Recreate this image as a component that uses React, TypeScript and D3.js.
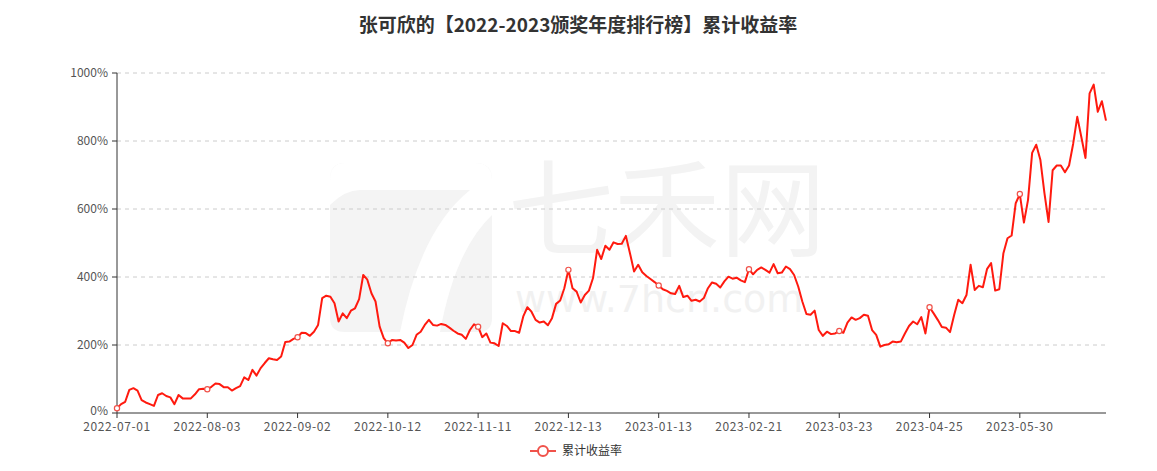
import React from "react";
import * as d3 from "d3";

const title = "张可欣的【2022-2023颁奖年度排行榜】累计收益率";
const seriesName = "累计收益率";

const tickIndices = [0, 22, 44, 66, 88, 110, 132, 154, 176, 198, 220];
const tickLabels = [
  "2022-07-01", "2022-08-03", "2022-09-02", "2022-10-12", "2022-11-11", "2022-12-13",
  "2023-01-13", "2023-02-21", "2023-03-23", "2023-04-25", "2023-05-30",
];
const yTicks = [0, 200, 400, 600, 800, 1000];

// cumulative return (%) per trading day
const values = [
  14, 26, 33, 68, 73, 66, 38, 31, 26, 21,
  53, 58, 50, 46, 26, 53, 43, 43, 43, 55,
  70, 71, 70, 77, 87, 85, 76, 76, 66, 73,
  79, 105, 97, 127, 110, 132, 147, 161, 158, 156,
  166, 209, 210, 218, 223, 236, 235, 227, 239, 259,
  338, 345, 342, 323, 269, 293, 279, 301, 308, 335,
  406, 392, 352, 328, 254, 220, 205, 215, 213, 215,
  207, 191, 200, 230, 239, 259, 274, 259, 257, 262,
  259, 251, 242, 234, 230, 218, 244, 261, 254, 223,
  234, 207, 205, 197, 264, 256, 241, 241, 236, 284,
  311, 298, 274, 266, 269, 258, 279, 321, 331, 367,
  421, 367, 357, 325, 347, 360, 397, 480, 453, 492,
  480, 502, 497, 498, 521, 470, 416, 436, 414, 403,
  394, 385, 375, 364, 359, 352, 350, 374, 341, 345,
  330, 333, 328, 338, 367, 384, 380, 369, 387, 401,
  395, 398, 390, 385, 423, 408, 421, 428, 421, 413,
  438, 411, 413, 431, 423, 406, 372, 328, 291, 289,
  301, 244, 227, 239, 232, 234, 241, 236, 266, 281,
  274, 279, 289, 286, 244, 230, 195, 200, 202, 210,
  208, 210, 234, 256, 269, 261, 282, 234, 311, 293,
  274, 253, 251, 238, 288, 333, 323, 347, 436, 362,
  374, 370, 423, 441, 360, 364, 470, 514, 522, 617,
  644, 560, 627, 765, 789, 745, 647, 562, 714, 728,
  728, 708, 728, 792, 871, 811, 750, 940, 966, 886,
  917, 860,
];

const W = 1157;
const H = 471;
const M = { left: 117, right: 1106, top: 73, bottom: 413 };
const LINE = "#ff1a0f";
const MARK = "#f0524a";
const FONT = "'Noto Sans CJK SC', 'Noto Sans', sans-serif";

export default function App() {
  const x = d3.scaleLinear().domain([0, values.length - 1]).range([M.left, M.right]);
  const y = d3.scaleLinear().domain([0, 1000]).range([M.bottom, M.top]);
  const line = d3
    .line<number>()
    .x((_, i) => x(i))
    .y((d) => y(d));

  return (
    <svg
      width={W}
      height={H}
      style={{ position: "absolute", left: 0, top: 0, background: "#fff" }}
      fontFamily={FONT}
    >
      {/* watermark */}
      <g>
        <path
          d="M345,163 L475,163 Q492,163 492,180 L492,318 Q492,332 478,332 L345,332 Q330,332 330,318 L330,180 Q330,163 345,163 Z"
          fill="#f4f4f4"
        />
        <path
          d="M360,190 L470,190 Q420,230 400,332 L440,332 Q455,250 492,215 L492,180 Q492,163 475,163 L345,163 Q330,163 330,180 L330,205 Q345,190 360,190 Z"
          fill="#ffffff"
        />
        <text x={508} y={248} fontSize={106} fill="#f3f3f3" fontFamily={FONT}>
          七禾网
        </text>
        <text x={515} y={312} fontSize={38} fill="#f1f1f1" fontFamily="'DejaVu Sans', sans-serif">
          www.7hcn.com
        </text>
      </g>

      <text x={578} y={32} textAnchor="middle" fontSize={19} fontWeight="bold" fill="#333">
        {title}
      </text>

      {/* grid + y axis */}
      {yTicks.map((t) => (
        <g key={t}>
          {t > 0 && (
            <line
              x1={M.left}
              x2={M.right}
              y1={y(t)}
              y2={y(t)}
              stroke="#cccccc"
              strokeDasharray="4,4"
            />
          )}
          <line x1={M.left - 5} x2={M.left} y1={y(t)} y2={y(t)} stroke="#333" />
          <text x={M.left - 9} y={y(t) + (t === 0 ? 2 : 4)} textAnchor="end" fontSize={12} fill="#555">
            {t}%
          </text>
        </g>
      ))}
      <line x1={M.left} x2={M.left} y1={M.top} y2={M.bottom} stroke="#333" />

      {/* x axis */}
      <line x1={M.left} x2={M.right} y1={M.bottom} y2={M.bottom} stroke="#333" />
      {tickIndices.map((ti, k) => (
        <g key={ti}>
          <line x1={x(ti)} x2={x(ti)} y1={M.bottom} y2={M.bottom + 5} stroke="#333" />
          <text
            x={x(ti)}
            y={M.bottom + 18}
            textAnchor="middle"
            fontSize={12}
            fill="#555"
            letterSpacing={0.6}
          >
            {tickLabels[k]}
          </text>
        </g>
      ))}

      {/* series */}
      <path d={line(values) || ""} fill="none" stroke={LINE} strokeWidth={2} strokeLinejoin="round" />
      {tickIndices.map((ti) => (
        <circle key={ti} cx={x(ti)} cy={y(values[ti])} r={2.6} fill="#fff" stroke={MARK} strokeWidth={1.2} />
      ))}

      {/* legend */}
      <g>
        <line x1={530} x2={556} y1={451} y2={451} stroke={MARK} strokeWidth={2} />
        <circle cx={543} cy={451} r={5} fill="#fff" stroke={MARK} strokeWidth={2} />
        <text x={562} y={455} fontSize={12} fill="#333">
          {seriesName}
        </text>
      </g>
    </svg>
  );
}
